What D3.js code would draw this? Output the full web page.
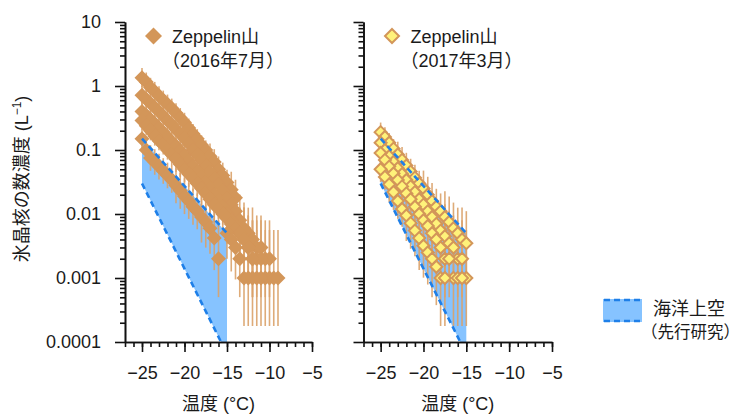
<!DOCTYPE html>
<html>
<head>
<meta charset="utf-8">
<script src="https://cdn.jsdelivr.net/npm/d3@7"></script>
<style>
body { margin: 0; background: #fff; }
text { font-family: "Liberation Sans", "Noto Sans CJK JP", sans-serif; fill: #1a1a1a; }
</style>
</head>
<body>
<svg id="chart" width="742" height="414"></svg>
<script>
// tick values and labels
var yTicks = [0.0001, 0.001, 0.01, 0.1, 1, 10]
var yTickLabels = ['0.0001', '0.001', '0.01', '0.1', '1', '10']
var xTicks = [-25, -20, -15, -10, -5]
var xTickLabels = ['\u221225', '\u221220', '\u221215', '\u221210', '\u22125']

// Zeppelin, July 2016 : [temperature, concentration, error bar half-width in decades]
var july2016 = [
  [[-25,1.35,.15],[-24.5,1.15,.15],[-24,.95,.15],[-23.5,.82,.15],[-23,.7,.15],[-22.5,.6,.15],[-22,.52,.15],[-21.5,.45,.15],[-21,.38,.15],[-20.5,.32,.15],[-20,.27,.15],[-19.5,.22,.15],[-19,.18,.15],[-18.5,.15,.15],[-18,.12,.15],[-17.5,.1,.15],[-17,.08,.2],[-16.5,.065,.2],[-16,.05,.2],[-15.5,.04,.2],[-15,.031,.2],[-14.5,.024,.28],[-14,.018,.28]],
  [[-25,.72,.15],[-24.5,.62,.15],[-24,.54,.15],[-23.5,.46,.15],[-23,.4,.15],[-22.5,.34,.15],[-22,.29,.15],[-21.5,.25,.15],[-21,.21,.15],[-20.5,.18,.15],[-20,.15,.15],[-19.5,.125,.15],[-19,.1,.15],[-18.5,.085,.2],[-18,.07,.2],[-17.5,.056,.2],[-17,.045,.2],[-16.5,.036,.2],[-16,.029,.28],[-15.5,.023,.28],[-15,.018,.28],[-14.5,.014,.28],[-14,.011,.28],[-13.5,.008,.4],[-13,.006,.4],[-12.5,.005,.4],[-12,.004,.5],[-11.5,.003,.5],[-11,.003,.5],[-10.5,.002,.6],[-10,.002,.6]],
  [[-25,.4,.15],[-24.5,.35,.15],[-24,.3,.15],[-23.5,.26,.15],[-23,.22,.15],[-22.5,.19,.15],[-22,.16,.15],[-21.5,.135,.15],[-21,.115,.15],[-20.5,.097,.2],[-20,.082,.2],[-19.5,.068,.2],[-19,.056,.2],[-18.5,.046,.2],[-18,.038,.2],[-17.5,.031,.2],[-17,.025,.28],[-16.5,.02,.28],[-16,.016,.28],[-15.5,.013,.28],[-15,.01,.28],[-14.5,.008,.4],[-14,.0065,.4],[-13.5,.005,.4],[-13,.004,.5],[-12.5,.003,.5],[-12,.002,.6],[-11.5,.002,.6],[-11,.002,.6],[-10.5,.001,.75],[-10,.001,.75],[-9.5,.001,.75],[-9,.001,.75]],
  [[-25,.29,.15],[-24.5,.24,.15],[-24,.2,.15],[-23.5,.165,.15],[-23,.14,.15],[-22.5,.12,.15],[-22,.1,.15],[-21.5,.085,.2],[-21,.072,.2],[-20.5,.06,.2],[-20,.05,.2],[-19.5,.042,.2],[-19,.036,.2],[-18.5,.03,.2],[-18,.025,.28],[-17.5,.021,.28],[-17,.017,.28],[-16.5,.014,.28],[-16,.012,.28],[-15.5,.01,.28],[-15,.0085,.4],[-14.5,.007,.4],[-14,.006,.4],[-13.5,.005,.4],[-13,.004,.5],[-12.5,.003,.5],[-12,.002,.6],[-11.5,.001,.75],[-11,.001,.75]],
  [[-25,.15,.15],[-24.5,.1,.15],[-24,.075,.2],[-23.5,.065,.2],[-23,.055,.2],[-22.5,.047,.2],[-22,.04,.2],[-21.5,.034,.2],[-21,.028,.28],[-20.5,.023,.28],[-20,.019,.28],[-19.5,.016,.28],[-19,.013,.28],[-18.5,.011,.28],[-18,.009,.4],[-17.5,.0075,.4],[-17,.006,.4],[-16.5,.0042,.5],[-16,.002,.6]],
  [[-15,.005,.4],[-14.5,.004,.5],[-14,.003,.5],[-13.5,.002,.6],[-13,.001,.75],[-12.5,.001,.75],[-12,.001,.75]]
]

// Zeppelin, March 2017
var march2017 = [
  [[-25,.19,.15],[-24.5,.16,.15],[-24,.13,.15],[-23.5,.105,.15],[-23,.085,.2],[-22.5,.07,.2],[-22,.057,.2],[-21.5,.046,.2],[-21,.037,.2],[-20.5,.03,.2],[-20,.025,.28],[-19.5,.02,.28],[-19,.016,.28],[-18.5,.013,.28],[-18,.011,.28],[-17.5,.009,.4],[-17,.0075,.4],[-16.5,.006,.4],[-16,.005,.4],[-15.5,.004,.5],[-15,.0035,.5]],
  [[-25,.13,.15],[-24.5,.1,.15],[-24,.08,.2],[-23.5,.065,.2],[-23,.052,.2],[-22.5,.042,.2],[-22,.034,.2],[-21.5,.027,.28],[-21,.022,.28],[-20.5,.017,.28],[-20,.014,.28],[-19.5,.011,.28],[-19,.009,.4],[-18.5,.007,.4],[-18,.0055,.4],[-17.5,.0045,.5],[-17,.0035,.5],[-16.5,.003,.5],[-16,.002,.6],[-15.5,.002,.6],[-15,.001,.75]],
  [[-25,.09,.2],[-24.5,.07,.2],[-24,.055,.2],[-23.5,.043,.2],[-23,.034,.2],[-22.5,.027,.28],[-22,.021,.28],[-21.5,.017,.28],[-21,.013,.28],[-20.5,.01,.28],[-20,.008,.4],[-19.5,.0065,.4],[-19,.005,.4],[-18.5,.004,.5],[-18,.003,.5],[-17.5,.002,.6],[-17,.002,.6],[-16.5,.001,.75],[-16,.001,.75],[-15.5,.001,.75]],
  [[-25,.05,.2],[-24.5,.038,.2],[-24,.029,.28],[-23.5,.022,.28],[-23,.016,.28],[-22.5,.012,.28],[-22,.0095,.4],[-21.5,.0072,.4],[-21,.0055,.4],[-20.5,.0042,.5],[-20,.0032,.5],[-19.5,.0025,.5],[-19,.002,.6],[-18.5,.0015,.6],[-18,.001,.75],[-17.5,.001,.75]]
]

// previous study over the ocean (range edges)
var oceanUpper = [[-25, 0.15], [-15, 0.005]]
var oceanLower = [[-25, 0.03], [-15.7, 0.0001]]

var orange = '#d39659', yellow = '#fff27a', blueFill = '#86c3ff', blueLine = '#1e7fe8'

var svg = d3.select('#chart')

var y = d3.scaleLog().domain([0.0001, 10]).range([342, 22])
var xL = d3.scaleLinear().domain([-27, -5]).range([125, 312])
var xR = d3.scaleLinear().domain([-27, -5]).range([363.5, 552])

var diamond = function(r) { return 'M0,' + (-r) + 'L' + r + ',0L0,' + r + 'L' + (-r) + ',0Z' }

function drawPanel(x, data, style) {
    // ocean range
    var poly = [oceanUpper[0], oceanUpper[1], [oceanUpper[1][0], y.domain()[0]], oceanLower[1], oceanLower[0]]
    svg.append('path')
        .attr('d', d3.line().x(d => x(d[0])).y(d => y(d[1]))(poly) + 'Z')
        .attr('fill', blueFill)

    var pts = data.flat()
    // error bars
    svg.append('g').selectAll('line').data(pts).join('line')
        .attr('x1', d => x(d[0])).attr('x2', d => x(d[0]))
        .attr('y1', d => y(d[1] / Math.pow(10, d[2])))
        .attr('y2', d => y(d[1] * Math.pow(10, d[2])))
        .attr('stroke', '#dba26a').attr('stroke-width', 1.6).attr('opacity', 0.9)

    // points
    svg.append('g').selectAll('path').data(pts).join('path')
        .attr('transform', d => 'translate(' + x(d[0]) + ',' + y(d[1]) + ')')
        .attr('d', diamond(style.r))
        .attr('fill', style.fill)
        .attr('stroke', style.stroke)
        .attr('stroke-width', style.sw)

    // dashed edges
    ;[oceanUpper, oceanLower].forEach(function(l) {
        svg.append('path')
            .attr('d', d3.line().x(d => x(d[0])).y(d => y(d[1]))(l))
            .attr('fill', 'none').attr('stroke', blueLine)
            .attr('stroke-width', 2.6).attr('stroke-dasharray', '6,4')
    })

    // axes
    var minorY = []
    yTicks.slice(0, -1).forEach(function(t) { for (var k = 2; k < 10; k++) minorY.push(t * k) })
    svg.append('g').attr('class', 'ax').attr('transform', 'translate(' + x.range()[0] + ',0)')
        .call(d3.axisLeft(y).tickValues(minorY).tickSize(5).tickFormat('').tickSizeOuter(0))
    svg.append('g').attr('class', 'ax yax').attr('transform', 'translate(' + x.range()[0] + ',0)')
        .call(d3.axisLeft(y).tickValues(yTicks).tickSize(10).tickPadding(14).tickSizeOuter(0)
            .tickFormat((d, i) => style.labels ? yTickLabels[i] : ''))

    svg.append('g').attr('class', 'ax').attr('transform', 'translate(0,342)')
        .call(d3.axisBottom(x).tickValues(d3.range(-27, -4)).tickSize(5).tickFormat('').tickSizeOuter(0))
    svg.append('g').attr('class', 'ax').attr('transform', 'translate(0,342)')
        .call(d3.axisBottom(x).tickValues(xTicks).tickSize(10).tickPadding(14).tickSizeOuter(0)
            .tickFormat((d, i) => xTickLabels[i]))

    svg.append('text')
        .attr('x', (x.range()[0] + x.range()[1]) / 2).attr('y', 410)
        .attr('text-anchor', 'middle').style('font-size', '18px')
        .text('温度 (°C)')

    // legend
    var lx = x.range()[0]
    svg.append('path').attr('transform', 'translate(' + (lx + 28.5) + ',36)')
        .attr('d', diamond(style.r + 1)).attr('fill', style.fill)
        .attr('stroke', style.stroke).attr('stroke-width', style.sw)
    svg.append('text').attr('x', lx + 47).attr('y', 43).style('font-size', '18px').text('Zeppelin山')
    svg.append('text').attr('x', lx + 37).attr('y', 67).style('font-size', '18px').text(style.period)
}

drawPanel(xL, july2016, {r: 7.5, fill: orange, stroke: 'none', sw: 0, labels: true, period: '（2016年7月）'})
drawPanel(xR, march2017, {r: 6, fill: yellow, stroke: orange, sw: 2, labels: false, period: '（2017年3月）'})

svg.selectAll('.ax path, .ax line').attr('stroke', '#111').attr('stroke-width', 1.6)
svg.selectAll('.ax text').style('font-size', '18px').attr('fill', '#1a1a1a')
    .style('font-family', '"Liberation Sans", "Noto Sans CJK JP", sans-serif')

// y axis title
var yt = svg.append('text')
    .attr('transform', 'translate(28,179) rotate(-90)')
    .attr('text-anchor', 'middle').style('font-size', '18px')
yt.append('tspan').text('氷晶核の数濃度 (L')
yt.append('tspan').attr('dy', -7).style('font-size', '12px').text('\u22121')
yt.append('tspan').attr('dy', 7).text(')')

// ocean legend
svg.append('rect').attr('x', 603).attr('y', 299).attr('width', 39).attr('height', 23).attr('fill', blueFill)
;[300, 321].forEach(function(ly) {
    svg.append('line').attr('x1', 604).attr('x2', 642).attr('y1', ly).attr('y2', ly)
        .attr('stroke', blueLine).attr('stroke-width', 2.6).attr('stroke-dasharray', '6,4')
})
svg.append('text').attr('x', 653).attr('y', 315).style('font-size', '18px').text('海洋上空')
svg.append('text').attr('x', 641).attr('y', 338).style('font-size', '16.5px').text('（先行研究）')
</script>
</body>
</html>
